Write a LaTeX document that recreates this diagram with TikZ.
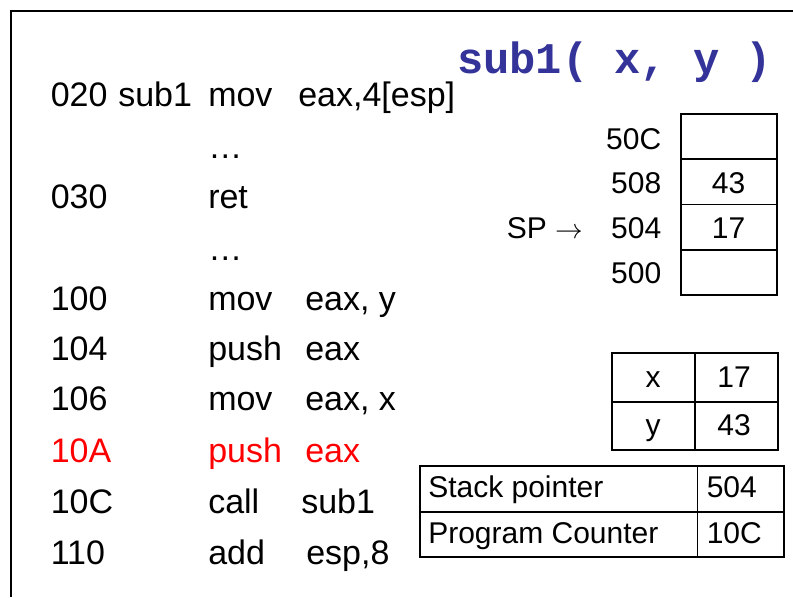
\documentclass[tikz,border=0pt]{standalone}
\usepackage{fontspec}
\setmainfont{Liberation Sans}
\newfontfamily\titlefont{Liberation Mono}
\definecolor{titleblue}{RGB}{51,51,153}
\definecolor{hotred}{RGB}{255,0,0}
\begin{document}
\begin{tikzpicture}[x=0.75pt,y=-0.75pt,
  code/.style={anchor=base west, inner sep=0pt, font=\fontsize{25.5}{30}\selectfont},
  cell/.style={anchor=base, inner sep=0pt, font=\fontsize{22.5}{27}\selectfont},
  lbl/.style={anchor=base west, inner sep=0pt, font=\fontsize{22.5}{27}\selectfont},
  addr/.style={anchor=base east, inner sep=0pt, font=\fontsize{22.5}{27}\selectfont},
  frameline/.style={line width=1.5pt},
  boxline/.style={line width=2.2pt},
  ruleline/.style={line width=1.1pt},
  hot/.style={text=hotred}]
\useasboundingbox (0,0) rectangle (793,597);

% slide frame
\draw[frameline] (11,597) -- (11,11) -- (793,11);

% title
\node[anchor=base west, inner sep=0pt, text=titleblue,
      font=\titlefont\bfseries\fontsize{32.8}{36}\selectfont] (title) at (457,73) {sub1( x, y )};

% code listing
\node[code] (a1) at (50.5,106) {020};
\node[code] (n1) at (118,106) {sub1};
\node[code] (o1) at (208,106) {mov};
\node[code] (p1) at (298,106) {eax,4[esp]};
\node[code] (o2) at (208,158) {…};
\node[code] (a3) at (50.5,208) {030};
\node[code] (o3) at (208,208) {ret};
\node[code] (o4) at (208,260) {…};
\node[code] (a5) at (50.5,310) {100};
\node[code] (o5) at (208,310) {mov};
\node[code] (p5) at (305,310) {eax, y};
\node[code] (a6) at (50.5,360) {104};
\node[code] (o6) at (208,360) {push};
\node[code] (p6) at (305,360) {eax};
\node[code] (a7) at (50.5,410) {106};
\node[code] (o7) at (208,410) {mov};
\node[code] (p7) at (305,410) {eax, x};
\node[code,hot] (a8) at (50.5,462) {10A};
\node[code,hot] (o8) at (208,462) {push};
\node[code,hot] (p8) at (305,462) {eax};
\node[code] (a9) at (50.5,513) {10C};
\node[code] (o9) at (208,513) {call};
\node[code] (p9) at (301,513) {sub1};
\node[code] (a10) at (50.5,564) {110};
\node[code] (o10) at (208,564) {add};
\node[code] (p10) at (306,564) {esp,8};

% stack memory
\draw[ruleline] (681,159) -- (777,159);
\draw[ruleline] (681,204.5) -- (777,204.5);
\draw[ruleline] (681,250) -- (777,250);
\draw[boxline] (681,114) rectangle (777,295);
\node[addr] (m50c) at (661.5,149) {50C};
\node[addr] (m508) at (661.5,193.5) {508};
\node[addr] (m504) at (661.5,238.5) {504};
\node[addr] (m500) at (661.5,283.5) {500};
\node[cell] (v508) at (728.5,193.5) {43};
\node[cell] (v504) at (728.5,238.5) {17};
\node[lbl] (sp) at (506.5,238.5) {SP $\rightarrow$};

% variables
\draw[ruleline] (612,402) -- (778,402);
\draw[ruleline] (695,353) -- (695,450);
\draw[boxline] (612,353) rectangle (778,450);
\node[cell] (vx) at (653,387) {x};
\node[cell] (vxv) at (734,387) {17};
\node[cell] (vy) at (653,435) {y};
\node[cell] (vyv) at (734,435) {43};

% registers
\draw[ruleline] (420,512) -- (784,512);
\draw[ruleline] (697.5,466) -- (697.5,557);
\draw[boxline] (420,466) rectangle (784,557);
\node[lbl] (rsp) at (428,497.5) {Stack pointer};
\node[lbl] (rpc) at (428,543.5) {Program Counter};
\node[lbl] (rspv) at (706.5,497.5) {504};
\node[lbl] (rpcv) at (706.5,543.5) {10C};
\end{tikzpicture}
\end{document}
